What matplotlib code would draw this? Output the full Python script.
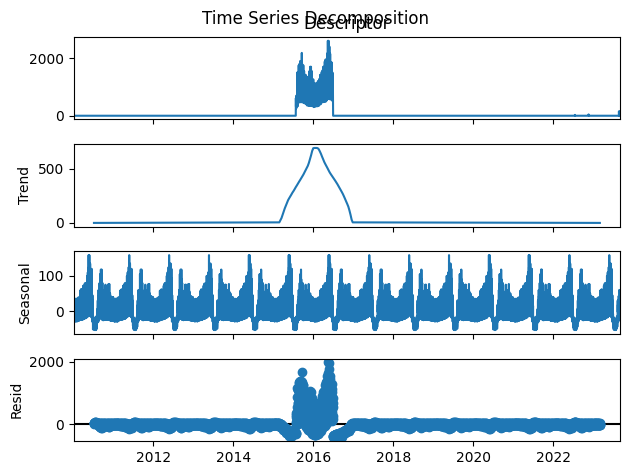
import numpy as np
import pandas as pd
import matplotlib
matplotlib.use('Agg')
import matplotlib.pyplot as plt


# período da série (diária)
data_inicio = '2010-01-08'
data_fim = '2023-08-31'
# período onde tendência e resíduo existem (média móvel centrada de 365 dias)
inicio_trend = '2010-07-09'
fim_trend = '2023-03-01'

# componente sazonal: máximo e mínimo de cada bloco de 10 dias do ano
saz_max = [35, 32, 35, 33, 38, 40, 58, 62, 60, 72, 78, 80, 100, 110, 159, 135, 120, 45,
           -18, -20, -22, -15, 30, 60, 105, 118, 80, 55, 50, 75, 55, 60, 77, 50, 42, 40]
saz_min = [-28, -30, -28, -30, -28, -27, -25, -25, -24, -22, -22, -20, -18, -15, -12, -14, -18, -30,
           -52, -54, -54, -50, -30, -25, -22, -20, -25, -26, -25, -24, -25, -25, -24, -26, -28, -28]

# posição de cada dia da semana entre o mínimo (0) e o máximo (1)
semana = [1.0, 0.45, 0.8, 0.15, 0.6, 0.0, 0.3]

# pico da série observada, blocos de 10 dias a partir de 26/07/2015
pico_inicio = '2015-07-26'
pico_max = [700, 1500, 1750, 1800, 1900, 2180, 1750, 1550, 1420, 1360, 1280, 1350, 1550, 1700,
            1550, 1260, 1120, 1080, 1120, 1130, 1200, 1280, 1420, 1520, 1570, 1700, 1880, 1950,
            2160, 2600, 2400, 2150, 1850, 1500]
pico_min = [250, 330, 450, 470, 470, 470, 460, 440, 430, 400, 360, 350, 350, 340, 340, 330, 300,
            320, 330, 330, 340, 360, 400, 450, 470, 480, 490, 500, 540, 580, 580, 570, 560, 520]

# pequenos picos no fim da série
extra_datas = ['2022-07-16', '2022-11-18', '2023-08-22', '2023-08-25', '2023-08-28']
extra_vals = [30, 45, 150, 120, 150]

# tendência em blocos de 10 dias a partir de 20/02/2015 (zero fora)
trend_inicio = '2015-02-20'
trend_vals = [5, 25, 45, 75, 105, 135, 160, 185, 210, 228, 245, 262, 280, 295, 312, 330, 346,
              363, 380, 396, 413, 430, 447, 467, 487, 507, 527, 555, 590, 625, 665, 690, 692,
              692, 692, 690, 680, 660, 638, 612, 588, 563, 543, 524, 505, 485, 466, 450, 435,
              420, 405, 390, 374, 358, 340, 322, 304, 286, 267, 245, 222, 198, 175, 150, 115,
              75, 30, 5]


datas = pd.date_range(data_inicio, data_fim, freq='D')
peso = np.array(semana)[np.arange(len(datas)) % 7]

# sazonal: cada dia entre o mínimo e o máximo do bloco
bloco = np.minimum((datas.dayofyear.values - 1) // 10, 35)
s_max = np.array(saz_max)[bloco]
s_min = np.array(saz_min)[bloco]
sazonal = s_min + peso * (s_max - s_min)

# observado: zero fora do pico
observado = np.zeros(len(datas))
k = (datas - pd.Timestamp(pico_inicio)).days.values // 10
dentro = (k >= 0) & (k < len(pico_max))
p_max = np.array(pico_max)[k[dentro]]
p_min = np.array(pico_min)[k[dentro]]
observado[dentro] = p_min + peso[dentro] * (p_max - p_min)
for d, v in zip(extra_datas, extra_vals):
    i = min(datas.searchsorted(pd.Timestamp(d)), len(datas) - 1)
    observado[i] = v

# tendência nos dias da série (para o resíduo)
trend = np.zeros(len(datas))
kt = (datas - pd.Timestamp(trend_inicio)).days.values // 10
dentro_t = (kt >= 0) & (kt < len(trend_vals))
trend[dentro_t] = np.array(trend_vals)[kt[dentro_t]]

periodo = (datas >= pd.Timestamp(inicio_trend)) & (datas <= pd.Timestamp(fim_trend))
resid = observado - trend - sazonal

# linha da tendência nos centros dos blocos
trend_datas = pd.Timestamp(trend_inicio) + pd.to_timedelta(np.arange(len(trend_vals)) * 10 + 5, unit='D')
trend_x = [pd.Timestamp(inicio_trend)] + list(trend_datas) + [pd.Timestamp(fim_trend)]
trend_y = [0] + trend_vals + [0]

xlim = (datas[0], datas[-1])

fig, axs = plt.subplots(4, 1, sharex=True, figsize=(6.3, 4.75), dpi=100)

axs[0].plot(datas, observado)
axs[0].set_title('Descriptor')

axs[1].plot(trend_x, trend_y)
axs[1].set_ylabel('Trend')

axs[2].plot(datas, sazonal)
axs[2].set_ylabel('Seasonal')

axs[3].plot(datas[periodo], resid[periodo], marker='o', linestyle='none')
axs[3].plot(xlim, (0, 0), color='#000000', zorder=-3)
axs[3].set_ylabel('Resid')

for ax in axs:
    ax.set_xlim(xlim)

# posições iguais às do tight_layout original
fig.subplots_adjust(left=0.1175, right=0.984, top=0.922, bottom=0.0716, hspace=0.3)
fig.suptitle('Time Series Decomposition')

plt.savefig('out.png')
